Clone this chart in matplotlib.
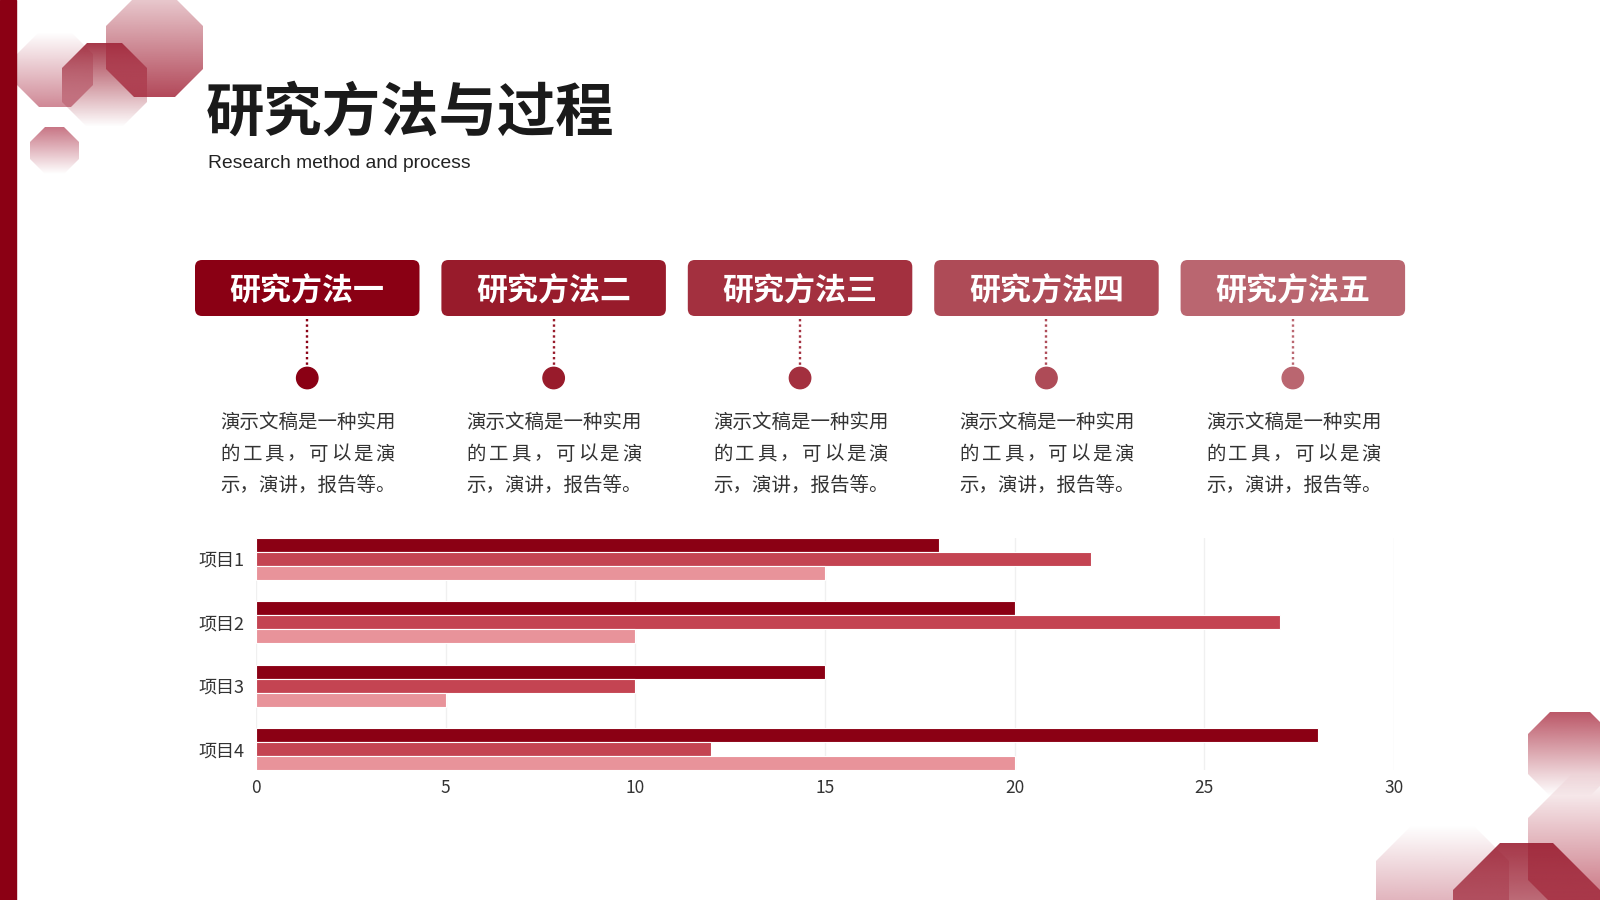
import numpy as np
import matplotlib
matplotlib.use('Agg')
import matplotlib.pyplot as plt
from matplotlib.patches import FancyBboxPatch, Circle, Polygon, Rectangle

plt.rcParams['font.family'] = ['Noto Sans CJK SC', 'DejaVu Sans']


# 数据

categories = ['项目1', '项目2', '项目3', '项目4']
series_1 = [18, 20, 15, 28]
series_2 = [22, 27, 10, 12]
series_3 = [15, 10, 5, 20]
x_ticks = [0, 5, 10, 15, 20, 25, 30]

methods = ['研究方法一', '研究方法二', '研究方法三', '研究方法四', '研究方法五']
desc_lines = ['演示文稿是一种实用', '的工具，可以是演', '示，演讲，报告等。']

title = '研究方法与过程'
subtitle = 'Research method and process'


# 颜色

dark_red = '#8B0014'
bar_colors = ['#8B0014', '#C44452', '#E8939A']
box_colors = ['#8A0014', '#981B2B', '#A3303F', '#AE4B57', '#BA6670']


def octagon(ax, x0, y0, x1, y1, cut, rgb, a_top, a_bot, z=1):
    # octagono con degradado vertical
    verts = [(x0 + cut, y0), (x1 - cut, y0), (x1, y0 + cut), (x1, y1 - cut),
             (x1 - cut, y1), (x0 + cut, y1), (x0, y1 - cut), (x0, y0 + cut)]
    grad = np.zeros((200, 2, 4))
    grad[:, :, 0] = rgb[0] / 255.
    grad[:, :, 1] = rgb[1] / 255.
    grad[:, :, 2] = rgb[2] / 255.
    grad[:, :, 3] = np.linspace(a_top, a_bot, 200)[:, None]
    im = ax.imshow(grad, extent=(x0, x1, y1, y0), origin='upper',
                   interpolation='bilinear', aspect='auto', zorder=z)
    poly = Polygon(verts, closed=True, transform=ax.transData)
    im.set_clip_path(poly)


fig = plt.figure(figsize=(16, 9), dpi=100)

bg = fig.add_axes([0, 0, 1, 1])
bg.set_zorder(0)

# barra lateral
bg.add_patch(Rectangle((0, 0), 16, 900, color=dark_red, zorder=5))

# decoracion arriba a la izquierda
octagon(bg, 17, 32, 93, 107, 22, (176, 58, 80), 0.0, 0.6)
octagon(bg, 62, 43, 147, 127, 25, (150, 20, 40), 0.85, 0.0)
octagon(bg, 106, -2, 203, 97, 28, (165, 40, 60), 0.25, 0.85)
octagon(bg, 30, 127, 79, 174, 15, (176, 58, 80), 0.7, 0.0)

# decoracion abajo a la derecha
octagon(bg, 1376, 825, 1509, 958, 36, (190, 90, 110), 0.0, 0.8)
octagon(bg, 1528, 773, 1680, 925, 45, (176, 50, 70), 0.0, 0.8)
octagon(bg, 1528, 712, 1612, 796, 22, (170, 45, 65), 0.8, 0.0)
octagon(bg, 1453, 843, 1600, 990, 47, (150, 20, 40), 0.85, 0.3)

# titulo
bg.text(206, 114, title, fontsize=42, fontweight='bold', ha='left', va='center', color='#1a1a1a')
bg.text(208, 163, subtitle, fontsize=13.9, family='Liberation Sans', ha='left', va='center', color='#222222')

# cajas de metodos
box_w = 224.5
for i, (name, col) in enumerate(zip(methods, box_colors)):
    x = 195 + i * 246.4
    cx = x + box_w / 2
    bg.add_patch(FancyBboxPatch((x, 260), box_w, 56, boxstyle='round,pad=0,rounding_size=7',
                                fc=col, ec='none', zorder=3))
    bg.text(cx, 291, name, fontsize=22.3, fontweight='bold', color='white',
            ha='center', va='center', zorder=4)
    bg.plot([cx, cx], [319, 366], ls=(0, (1, 1.3)), lw=1.7, color=col, zorder=3)
    bg.add_patch(Circle((cx, 378), 10.7, color=col, zorder=3))

    left = x + 25.4
    em = 19.4
    bg.text(left, 422.5, desc_lines[0], fontsize=14, color='#333333', ha='left', va='center')
    step = (9 * em - em) / (len(desc_lines[1]) - 1)
    for k, ch in enumerate(desc_lines[1]):
        bg.text(left + em / 2 + k * step, 454, ch, fontsize=14, color='#333333',
                ha='center', va='center')
    bg.text(left, 485.7, desc_lines[2], fontsize=14, color='#333333', ha='left', va='center')

bg.set_xlim(0, 1600)
bg.set_ylim(900, 0)
bg.axis('off')


# grafico de barras
ax = fig.add_axes([0.16, 0.144, 0.71125, 0.2584])
ax.set_zorder(2)
ax.patch.set_alpha(0)

y = np.arange(len(categories))
h = 0.22
ax.barh(y - h, series_1, h, color=bar_colors[0], edgecolor='white', linewidth=0.8)
ax.barh(y, series_2, h, color=bar_colors[1], edgecolor='white', linewidth=0.8)
ax.barh(y + h, series_3, h, color=bar_colors[2], edgecolor='white', linewidth=0.8)

ax.set_ylim(3.33, -0.33)
ax.set_xlim(0, 30)
ax.set_xticks(x_ticks)
ax.set_yticks(y)
ax.set_yticklabels(categories)
ax.grid(axis='x', color='#F0F0F0', lw=1)
ax.set_axisbelow(True)
for s in ax.spines.values():
    s.set_visible(False)
ax.tick_params(axis='y', length=0, pad=8, labelsize=13, labelcolor='#333333')
ax.tick_params(axis='x', length=0, pad=6, labelsize=12.5, labelcolor='#333333')

plt.savefig('out.png', dpi=100)
